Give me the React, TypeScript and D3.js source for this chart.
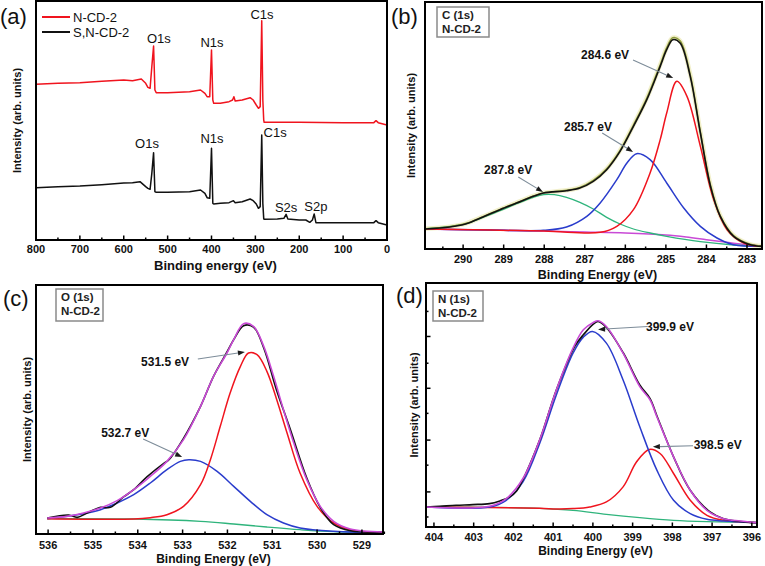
import React from 'react';
import * as d3 from 'd3';

type Pt = [number, number];

// ---- (a) survey spectra: [binding energy eV, intensity a.u.] ----
const SURVEY_NCD: Pt[] = [
  [800, 467], [750, 470], [700, 472], [650, 476], [600, 480], [580, 478], [560, 483], [550, 470],
  [545, 458], [540, 455], [536, 520], [532, 582], [529, 450], [526, 442], [500, 442], [450, 445],
  [425, 450], [415, 440], [410, 430], [404, 430], [400, 570], [397, 420], [395, 410], [380, 410],
  [360, 415], [352, 420], [349, 430], [346, 417], [330, 420], [312, 427], [305, 420], [298, 405],
  [293, 395], [289, 400], [285.5, 658], [283, 420], [281, 360], [280, 353], [200, 353], [100, 352],
  [30, 352], [25, 358], [20, 352], [0, 345],
];
const SURVEY_SNCD: Pt[] = [
  [800, 157], [750, 160], [700, 162], [650, 166], [600, 171], [580, 172], [563, 175], [550, 160],
  [545, 155], [540, 152], [536, 200], [532, 262], [529, 145], [526, 143], [500, 143], [450, 145],
  [425, 150], [415, 140], [410, 127], [404, 125], [400, 275], [397, 110], [395, 108], [380, 110],
  [360, 112], [350, 118], [346, 112], [330, 115], [312, 123], [305, 118], [298, 108], [293, 95],
  [289, 100], [285.5, 315], [283, 110], [281, 65], [280, 62], [250, 63], [235, 65], [230, 77],
  [226, 63], [200, 60], [185, 60], [176, 53], [170, 60], [166, 78], [162, 52], [100, 52],
  [30, 52], [25, 58], [20, 52], [0, 45],
];
const SURVEY_LABELS_NCD = [
  { text: 'O1s', at: [520, 591] as Pt },
  { text: 'N1s', at: [399, 579] as Pt },
  { text: 'C1s', at: [285, 663] as Pt },
];
const SURVEY_LABELS_SNCD = [
  { text: 'O1s', at: [547, 276] as Pt },
  { text: 'N1s', at: [399, 291] as Pt },
  { text: 'C1s', at: [255, 309] as Pt },
  { text: 'S2s', at: [230, 84] as Pt },
  { text: 'S2p', at: [162, 87] as Pt },
];
const SURVEY_LEGEND = ['N-CD-2', 'S,N-CD-2'];

// ---- (b) C 1s ----
const C1S_RAW: Pt[] = [
  [290.95, 60], [290.33, 66], [289.92, 76], [289.51, 96], [289.09, 118], [288.68, 138], [288.27, 158],
  [288.02, 168], [287.45, 175], [287.12, 183], [286.79, 203], [286.46, 238], [286.13, 293], [285.8, 368],
  [285.47, 448], [285.14, 548], [284.98, 598], [284.83, 628], [284.65, 618], [284.4, 518], [284.15, 348],
  [283.9, 188], [283.66, 98], [283.33, 38], [282.92, 13], [282.63, 8],
];
const C1S_FIT: Pt[] = [
  [290.95, 61], [290.33, 67], [289.92, 77], [289.51, 97], [289.09, 119], [288.68, 139], [288.27, 159],
  [288.02, 168], [287.45, 176], [287.12, 185], [286.79, 206], [286.46, 241], [286.13, 296], [285.8, 372],
  [285.47, 453], [285.14, 553], [284.98, 604], [284.83, 634], [284.65, 625], [284.4, 524], [284.15, 352],
  [283.9, 192], [283.66, 100], [283.33, 40], [282.92, 14], [282.63, 9],
];
const C1S_PEAK_1: Pt[] = [ // 284.6 eV
  [290.95, 60], [288, 54], [286.62, 50], [286.21, 68], [285.8, 118], [285.39, 228], [285.14, 328],
  [284.98, 408], [284.73, 503], [284.48, 458], [284.15, 308], [283.82, 148], [283.49, 58], [283.08, 18], [282.63, 8],
];
const C1S_PEAK_2: Pt[] = [ // 285.7 eV
  [290.95, 60], [289, 56], [288.02, 56], [287.45, 66], [286.95, 98], [286.62, 138], [286.21, 208],
  [285.96, 258], [285.72, 286], [285.39, 268], [284.98, 198], [284.56, 123], [284.15, 68], [283.74, 33],
  [283.33, 13], [282.63, 8],
];
const C1S_PEAK_3: Pt[] = [ // 287.8 eV
  [290.95, 60], [289.92, 76], [289.51, 95], [289.09, 115], [288.68, 136], [288.27, 155], [288.02, 163],
  [287.75, 163], [287.45, 155], [287.12, 140], [286.79, 120], [286.46, 95], [286.13, 75], [285.8, 60],
  [285.39, 48], [284.98, 38], [284.15, 22], [283.33, 12], [282.63, 8],
];
const C1S_BG: Pt[] = [
  [290.95, 60], [290, 58], [289, 56], [288, 54], [287, 51], [286, 48], [285, 42], [284.5, 36], [284, 28],
  [283.5, 20], [283, 13], [282.63, 8],
];
const C1S_NOTES = [
  { text: '284.6 eV', at: [286.5, 570] as Pt, from: [285.81, 567] as Pt, to: [284.82, 513] as Pt },
  { text: '285.7 eV', at: [286.92, 354] as Pt, from: [286.57, 348] as Pt, to: [285.81, 291] as Pt },
  { text: '287.8 eV', at: [288.89, 225] as Pt, from: [288.64, 216] as Pt, to: [288.03, 171] as Pt },
];

// ---- (c) O 1s ----
const O1S_RAW: Pt[] = [
  [536.02, 48], [535.54, 57], [535.35, 50], [535.13, 63], [534.83, 80], [534.61, 80], [534.31, 112],
  [534.09, 133], [533.79, 172], [533.42, 212], [533.31, 222], [532.98, 287], [532.6, 383], [532.31, 473],
  [532.01, 546], [531.86, 583], [531.64, 625], [531.42, 621], [531.19, 558], [530.9, 430], [530.6, 315],
  [530.23, 168], [529.93, 80], [529.63, 28], [529.26, 10], [528.53, 6],
];
const O1S_FIT: Pt[] = [
  [536.02, 48], [535.58, 53], [535.21, 63], [534.83, 78], [534.46, 100], [534.09, 133], [533.72, 173],
  [533.35, 218], [532.98, 283], [532.6, 383], [532.31, 473], [532.01, 543], [531.86, 583], [531.64, 631],
  [531.42, 623], [531.19, 563], [530.97, 473], [530.75, 373], [530.52, 273], [530.23, 163], [529.93, 83],
  [529.63, 38], [529.26, 15], [528.53, 6],
];
const O1S_PEAK_1: Pt[] = [ // 531.5 eV
  [536.02, 46], [534.09, 45], [533.72, 49], [533.35, 58], [532.98, 83], [532.6, 148], [532.38, 223],
  [532.16, 323], [531.94, 423], [531.71, 503], [531.53, 543], [531.34, 538], [531.12, 488], [530.9, 403],
  [530.67, 303], [530.38, 183], [530.0, 83], [529.63, 33], [529.26, 13], [528.53, 4],
];
const O1S_PEAK_2: Pt[] = [ // 532.7 eV
  [536.02, 46], [535.21, 61], [534.83, 73], [534.46, 93], [534.09, 118], [533.72, 153], [533.35, 193],
  [533.05, 218], [532.86, 223], [532.6, 218], [532.23, 188], [531.86, 143], [531.49, 98], [531.12, 58],
  [530.75, 33], [530.38, 18], [529.63, 8], [528.53, 4],
];
const O1S_BG: Pt[] = [
  [536.02, 46], [534.09, 45], [532.6, 38], [531.86, 30], [531.12, 21], [530.38, 13], [529.63, 7], [528.53, 4],
];
const O1S_NOTES = [
  { text: '531.5 eV', at: [533.39, 504] as Pt, from: [532.66, 525] as Pt, to: [531.61, 546] as Pt },
  { text: '532.7 eV', at: [534.28, 291] as Pt, from: [533.88, 285] as Pt, to: [533.01, 231] as Pt },
];

// ---- (d) N 1s ----
const N1S_RAW: Pt[] = [
  [404.19, 60], [403.86, 62], [403.44, 65], [403.02, 67], [402.6, 70], [402.34, 78], [402.09, 90],
  [401.92, 108], [401.76, 142], [401.34, 260], [400.92, 410], [400.45, 542], [400.24, 575], [399.99, 607],
  [399.87, 615], [399.66, 597], [399.24, 522], [398.82, 425], [398.56, 384], [398.39, 333], [397.97, 210],
  [397.55, 110], [397.05, 45], [396.71, 25], [395.87, 13],
];
const N1S_FIT: Pt[] = [
  [404.19, 60], [402.6, 62], [402.18, 85], [401.76, 145], [401.34, 260], [400.92, 410], [400.5, 535],
  [400.24, 590], [399.99, 612], [399.87, 617], [399.66, 600], [399.24, 520], [398.82, 420], [398.56, 380],
  [398.39, 330], [397.97, 210], [397.55, 110], [397.13, 50], [396.71, 25], [396.29, 18], [395.87, 13],
];
const N1S_PEAK_1: Pt[] = [ // 399.9 eV
  [404.19, 60], [402.6, 60], [402.18, 80], [401.76, 135], [401.34, 250], [400.92, 395], [400.5, 520],
  [400.24, 568], [400.01, 585], [399.66, 550], [399.24, 440], [398.82, 300], [398.39, 170], [397.97, 80],
  [397.55, 40], [397.13, 23], [396.71, 18], [395.87, 13],
];
const N1S_PEAK_2: Pt[] = [ // 398.5 eV
  [404.19, 60], [401.34, 56], [400.92, 54], [400.5, 55], [400.08, 60], [399.66, 75], [399.24, 120],
  [398.9, 195], [398.58, 232], [398.31, 220], [397.97, 160], [397.55, 80], [397.13, 35], [396.71, 20], [395.87, 13],
];
const N1S_BG: Pt[] = [
  [404.19, 60], [402.6, 59], [401.34, 56], [400.5, 50], [399.66, 38], [398.82, 28], [397.97, 20], [397.13, 16], [395.87, 13],
];
const N1S_NOTES = [
  { text: '399.9 eV', at: [398.06, 585] as Pt, from: [398.62, 600] as Pt, to: [399.87, 591] as Pt },
  { text: '398.5 eV', at: [396.86, 234] as Pt, from: [397.48, 243] as Pt, to: [398.49, 240] as Pt },
];
const N1S_YTICKS_MAJOR = [105, 260, 415, 570];
const N1S_YTICKS_MINOR = [30, 185, 340, 490, 645];

const FONT = '"Liberation Sans", Arial, Helvetica, sans-serif';
const RED = '#f0141e';
const BLUE = '#2a3ccc';
const GREEN = '#2fb47c';
const MAGENTA = '#c94ad6';

type Series = { data: Pt[]; color: string; width: number; glow?: boolean };
type Note = { text: string; at: Pt; from: Pt; to: Pt };

type PanelProps = {
  id: string;
  box: { l: number; r: number; t: number; b: number };
  xDomain: [number, number];
  yMax: number;
  major: number[];
  minor: number[];
  series: Series[];
  curve: d3.CurveFactory;
  notes?: Note[];
  xTitle: string;
  tickDy: number;
  titleDy: number;
  titleSize: number;
  yTitleX: number;
  letter: string;
  letterPos: [number, number];
  legendBox?: { lines: string[]; x: number; y: number; w: number; h: number };
  yTicks?: { major: number[]; minor: number[] };
  children?: (x: d3.ScaleLinear<number, number>, y: d3.ScaleLinear<number, number>) => React.ReactNode;
};

function Panel(p: PanelProps) {
  const { box } = p;
  const x = d3.scaleLinear().domain(p.xDomain).range([box.l, box.r]);
  const y = d3.scaleLinear().domain([0, p.yMax]).range([box.b, box.t]);
  const line = d3.line<Pt>().x((d) => x(d[0])).y((d) => y(d[1])).curve(p.curve);
  const clip = `clip-${p.id}`;
  return (
    <g>
      <defs>
        <clipPath id={clip}>
          <rect x={box.l} y={box.t} width={box.r - box.l} height={box.b - box.t} />
        </clipPath>
      </defs>
      <g clipPath={`url(#${clip})`}>
        {p.series.map((s, i) =>
          s.glow ? (
            <path key={i} d={line(s.data) || ''} fill="none" stroke="#f2f0cc" strokeWidth={4.5} strokeLinejoin="round" />
          ) : (
            <path key={i} d={line(s.data) || ''} fill="none" stroke={s.color} strokeWidth={s.width} strokeLinejoin="round" />
          )
        )}
      </g>
      {/* inward ticks */}
      {p.major.map((v) => (
        <line key={'M' + v} x1={x(v)} x2={x(v)} y1={box.b} y2={box.b - 4.5} stroke="#000" strokeWidth={1.5} />
      ))}
      {p.minor.map((v) => (
        <line key={'m' + v} x1={x(v)} x2={x(v)} y1={box.b} y2={box.b - 2.5} stroke="#000" strokeWidth={1.5} />
      ))}
      {p.yTicks?.major.map((v) => (
        <line key={'yM' + v} x1={box.l} x2={box.l + 4.5} y1={y(v)} y2={y(v)} stroke="#000" strokeWidth={1.5} />
      ))}
      {p.yTicks?.minor.map((v) => (
        <line key={'ym' + v} x1={box.l} x2={box.l + 2.5} y1={y(v)} y2={y(v)} stroke="#000" strokeWidth={1.5} />
      ))}
      <rect x={box.l} y={box.t} width={box.r - box.l} height={box.b - box.t} fill="none" stroke="#000" strokeWidth={2} />
      {p.major.map((v) => (
        <text key={'t' + v} x={x(v)} y={box.b + p.tickDy} textAnchor="middle" fontSize={11} fontWeight="bold" fill="#111">
          {String(v)}
        </text>
      ))}
      <text x={(box.l + box.r) / 2 + 4} y={box.b + p.titleDy} textAnchor="middle" fontSize={p.titleSize} fontWeight="bold" fill="#111">
        {p.xTitle}
      </text>
      <text
        transform={`translate(${p.yTitleX},${(box.t + box.b) / 2}) rotate(-90)`}
        textAnchor="middle"
        fontSize={11}
        fontWeight="bold"
        fill="#111"
      >
        Intensity (arb. units)
      </text>
      <text x={p.letterPos[0]} y={p.letterPos[1]} fontSize={22} fill="#111">
        {p.letter}
      </text>
      {p.legendBox && (
        <g>
          <rect
            x={p.legendBox.x}
            y={p.legendBox.y}
            width={p.legendBox.w}
            height={p.legendBox.h}
            fill="#fff"
            stroke="#8a8a8a"
            strokeWidth={1.5}
          />
          {p.legendBox.lines.map((t, i) => (
            <text key={t} x={p.legendBox!.x + 5} y={p.legendBox!.y + 12 + i * 14} fontSize={11.5} fontWeight="bold" fill="#222">
              {t}
            </text>
          ))}
        </g>
      )}
      {p.notes?.map((n) => {
        const x1 = x(n.from[0]), y1 = y(n.from[1]), x2 = x(n.to[0]), y2 = y(n.to[1]);
        const ang = Math.atan2(y2 - y1, x2 - x1);
        const hl = 7, hw = 2.6;
        const bx = x2 - hl * Math.cos(ang), by = y2 - hl * Math.sin(ang);
        const head = `M${x2},${y2}L${bx - hw * Math.sin(ang)},${by + hw * Math.cos(ang)}L${bx + hw * Math.sin(ang)},${by - hw * Math.cos(ang)}Z`;
        return (
          <g key={n.text}>
            <text x={x(n.at[0])} y={y(n.at[1])} textAnchor="middle" fontSize={12} fontWeight="bold" fill="#111">
              {n.text}
            </text>
            <line x1={x1} y1={y1} x2={bx} y2={by} stroke="#7d8c99" strokeWidth={1.1} />
            <path d={head} fill="#1a1a1a" />
          </g>
        );
      })}
      {p.children && p.children(x, y)}
    </g>
  );
}

export default function App() {
  const halfSteps = (a: number, b: number) => d3.range(a, b + 0.001, 1).map((v) => v + 0.5);
  return (
    <svg
      width={765}
      height={566}
      viewBox="0 0 765 566"
      style={{ position: 'absolute', left: 0, top: 0, display: 'block', background: '#fff' }}
      fontFamily={FONT}
    >
      <rect width={765} height={566} fill="#fff" />
      <Panel
        id="a"
        box={{ l: 36, r: 387, t: 1, b: 240 }}
        xDomain={[800, 0]}
        yMax={717}
        major={d3.range(0, 801, 100)}
        minor={d3.range(50, 800, 100)}
        series={[
          { data: SURVEY_NCD, color: RED, width: 1.5 },
          { data: SURVEY_SNCD, color: '#111', width: 1.5 },
        ]}
        curve={d3.curveLinear}
        xTitle="Binding energy (eV)"
        tickDy={13}
        titleDy={30}
        titleSize={13}
        yTitleX={21}
        letter="(a)"
        letterPos={[0, 24]}
      >
        {(x, y) => (
          <g>
            {[...SURVEY_LABELS_NCD, ...SURVEY_LABELS_SNCD].map((l, i) => (
              <text key={i} x={x(l.at[0])} y={y(l.at[1])} textAnchor="middle" fontSize={13} fill="#111">
                {l.text}
              </text>
            ))}
            {SURVEY_LEGEND.map((t, i) => (
              <g key={t}>
                <line x1={42} x2={70} y1={17 + i * 15} y2={17 + i * 15} stroke={i === 0 ? RED : '#111'} strokeWidth={2} />
                <text x={73} y={21.5 + i * 15} fontSize={13} fill="#111">
                  {t}
                </text>
              </g>
            ))}
          </g>
        )}
      </Panel>
      <Panel
        id="b"
        box={{ l: 425, r: 762, t: 2, b: 249 }}
        xDomain={[290.94, 282.63]}
        yMax={741}
        major={d3.range(283, 291, 1)}
        minor={halfSteps(282, 290)}
        series={[
          { data: C1S_FIT, color: '', width: 0, glow: true },
          { data: C1S_BG, color: MAGENTA, width: 1.5 },
          { data: C1S_PEAK_3, color: GREEN, width: 1.3 },
          { data: C1S_PEAK_2, color: BLUE, width: 1.5 },
          { data: C1S_PEAK_1, color: RED, width: 1.5 },
          { data: C1S_FIT, color: '#8c9a3c', width: 1.5 },
          { data: C1S_RAW, color: '#111', width: 1.6 },
        ]}
        curve={d3.curveCatmullRom.alpha(0.5)}
        notes={C1S_NOTES}
        xTitle="Binding Energy (eV)"
        tickDy={14}
        titleDy={30}
        titleSize={12.5}
        yTitleX={415}
        letter="(b)"
        letterPos={[391, 24]}
        legendBox={{ lines: ['C (1s)', 'N-CD-2'], x: 437, y: 7, w: 52, h: 30 }}
      />
      <Panel
        id="c"
        box={{ l: 36, r: 383, t: 285, b: 534 }}
        xDomain={[536.27, 528.53]}
        yMax={747}
        major={d3.range(529, 537, 1)}
        minor={halfSteps(528, 535)}
        series={[
          { data: O1S_BG, color: GREEN, width: 1.3 },
          { data: O1S_PEAK_2, color: BLUE, width: 1.5 },
          { data: O1S_PEAK_1, color: RED, width: 1.5 },
          { data: O1S_RAW, color: '#111', width: 1.6 },
          { data: O1S_FIT, color: MAGENTA, width: 1.6 },
        ]}
        curve={d3.curveCatmullRom.alpha(0.5)}
        notes={O1S_NOTES}
        xTitle="Binding Energy (eV)"
        tickDy={14.5}
        titleDy={28.5}
        titleSize={12}
        yTitleX={31}
        letter="(c)"
        letterPos={[3, 306]}
        legendBox={{ lines: ['O (1s)', 'N-CD-2'], x: 56, y: 289, w: 47, h: 32 }}
      />
      <Panel
        id="d"
        box={{ l: 426, r: 757, t: 283, b: 527 }}
        xDomain={[404.2, 395.87]}
        yMax={730}
        major={d3.range(396, 405, 1)}
        minor={halfSteps(395, 403)}
        series={[
          { data: N1S_BG, color: GREEN, width: 1.3 },
          { data: N1S_PEAK_2, color: RED, width: 1.5 },
          { data: N1S_PEAK_1, color: BLUE, width: 1.5 },
          { data: N1S_RAW, color: '#111', width: 1.6 },
          { data: N1S_FIT, color: MAGENTA, width: 1.6 },
        ]}
        curve={d3.curveCatmullRom.alpha(0.5)}
        notes={N1S_NOTES}
        xTitle="Binding Energy (eV)"
        tickDy={13.5}
        titleDy={28}
        titleSize={12}
        yTitleX={418}
        letter="(d)"
        letterPos={[396, 303]}
        legendBox={{ lines: ['N (1s)', 'N-CD-2'], x: 433, y: 291, w: 50, h: 30 }}
        yTicks={{ major: N1S_YTICKS_MAJOR, minor: N1S_YTICKS_MINOR }}
      />
    </svg>
  );
}
